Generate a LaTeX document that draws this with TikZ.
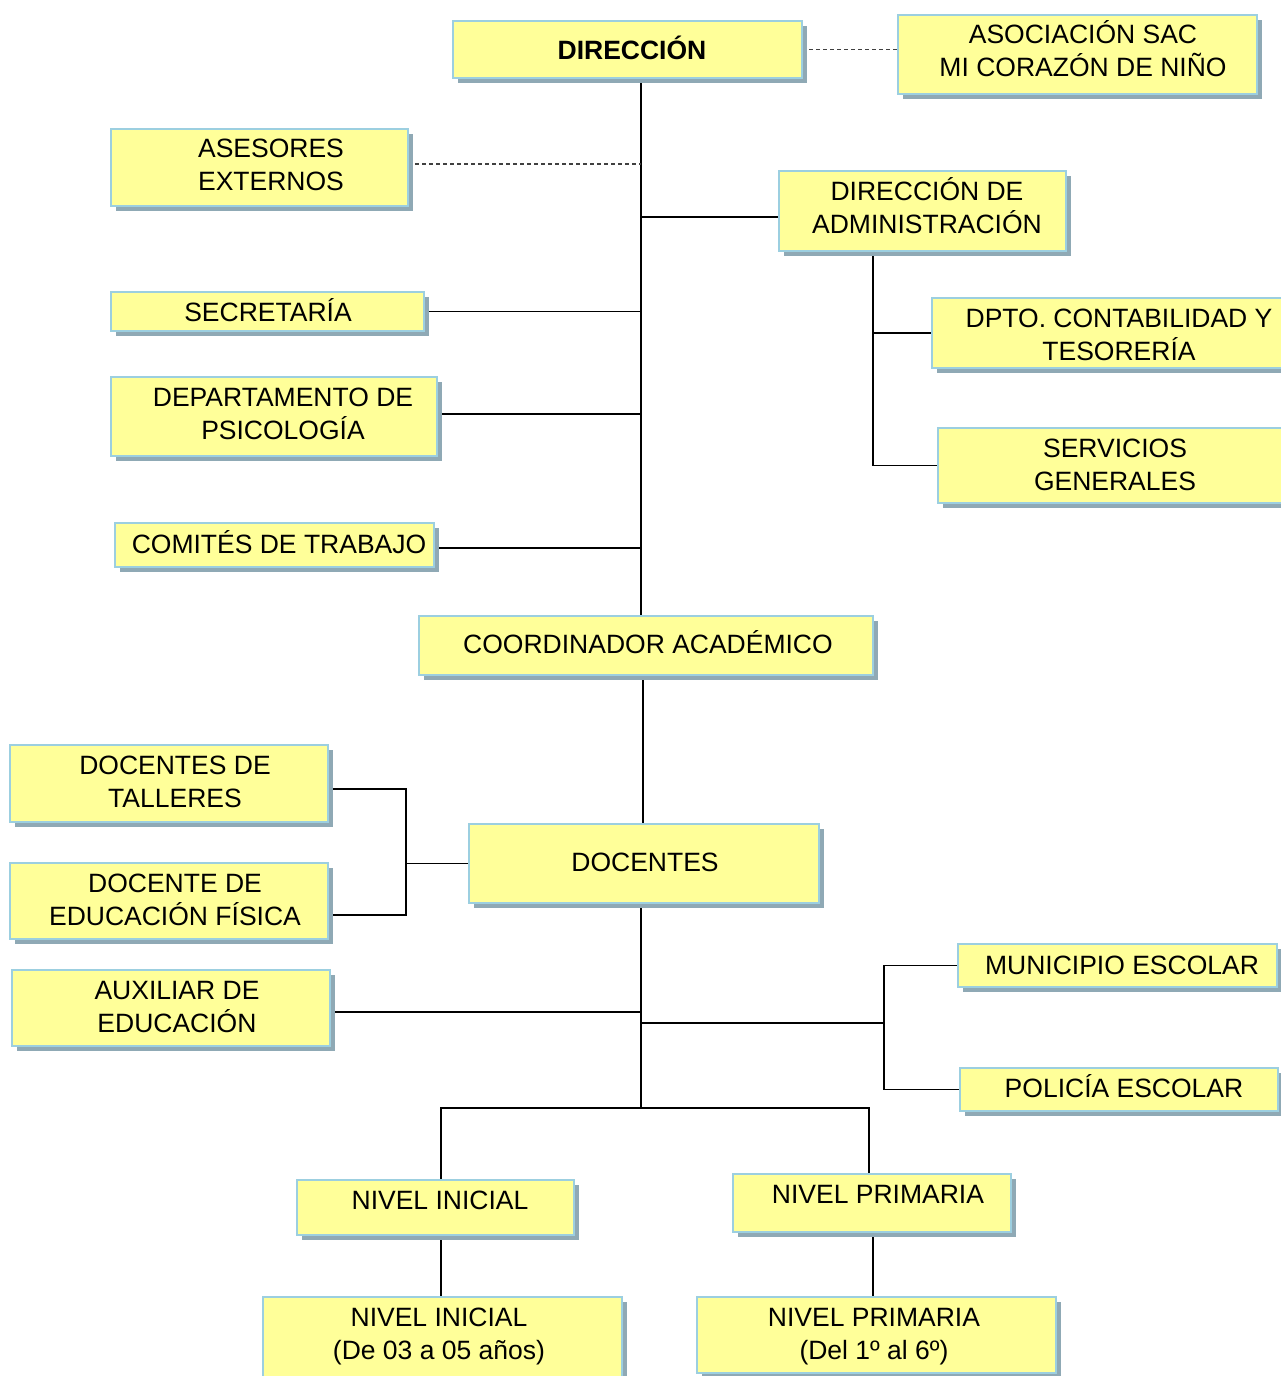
\documentclass[tikz,border=0pt]{standalone}
\usepackage{fontspec}
\setmainfont{Liberation Sans}
\usetikzlibrary{shadows,backgrounds}
\definecolor{boxfill}{HTML}{FFFF99}
\definecolor{boxline}{HTML}{9CCFE0}
\definecolor{boxshadow}{HTML}{8FA9B5}
% text placed with offset (dx, dy downward) of its cap-centre from the node centre
\newcommand\bt[3]{\makebox[0pt][c]{\raisebox{\dimexpr-9.5pt-(#2)\relax}[0pt][0pt]{\kern#1\begin{tabular}{@{}c@{}}#3\end{tabular}\kern-#1}}}
\tikzset{
  orgbox/.style={draw=boxline, line width=2.5pt, fill=boxfill, inner sep=0pt, outer sep=0pt,
    drop shadow={shadow xshift=5pt, shadow yshift=-5pt, fill=boxshadow, opacity=1},
    font=\fontsize{26.5}{33}\selectfont},
  link/.style={draw=black, line width=1.3pt},
  dashlink/.style={draw=black!75, line width=1.2pt, dash pattern=on 4pt off 3pt},
}
\begin{document}
\begin{tikzpicture}[x=1pt, y=-1pt]
\useasboundingbox (0,0) rectangle (1281,1376);

% boxes
\node[orgbox, minimum width=349pt, minimum height=57pt] (dir) at (627.5,49.5) {\bt{4.5pt}{-0.5pt}{\bfseries DIRECCIÓN}};
\node[orgbox, minimum width=359pt, minimum height=79pt] (asoc) at (1077.5,54.5) {\bt{5.5pt}{-4pt}{ASOCIACIÓN SAC\\MI CORAZÓN DE NIÑO}};
\node[orgbox, minimum width=297pt, minimum height=77pt] (ases) at (259.5,167.5) {\bt{11.5pt}{-3.5pt}{ASESORES\\EXTERNOS}};
\node[orgbox, minimum width=287pt, minimum height=80pt] (adm) at (922.5,211) {\bt{4.5pt}{-3.5pt}{DIRECCIÓN DE\\ADMINISTRACIÓN}};
\node[orgbox, minimum width=313pt, minimum height=39pt] (sec) at (267.5,311.5) {\bt{0.5pt}{0.5pt}{SECRETARÍA}};
\node[orgbox, minimum width=326pt, minimum height=79pt] (psi) at (274,416.5) {\bt{9pt}{-3pt}{DEPARTAMENTO DE\\PSICOLOGÍA}};
\node[orgbox, minimum width=319pt, minimum height=44pt] (com) at (274.5,545) {\bt{4.5pt}{-1pt}{COMITÉS DE TRABAJO}};
\node[orgbox, minimum width=374pt, minimum height=70pt] (dpto) at (1119,333) {\bt{0pt}{1.5pt}{DPTO. CONTABILIDAD Y\\TESORERÍA}};
\node[orgbox, minimum width=354pt, minimum height=75pt] (serv) at (1115,465.5) {\bt{0pt}{-1pt}{SERVICIOS\\GENERALES}};
\node[orgbox, minimum width=454pt, minimum height=59pt] (coord) at (646,645.5) {\bt{2pt}{-1.5pt}{COORDINADOR ACADÉMICO}};
\node[orgbox, minimum width=318pt, minimum height=77pt] (tal) at (169,783.5) {\bt{6pt}{-2pt}{DOCENTES DE\\TALLERES}};
\node[orgbox, minimum width=318pt, minimum height=76pt] (fis) at (169,901) {\bt{6pt}{-1.5pt}{DOCENTE DE\\EDUCACIÓN FÍSICA}};
\node[orgbox, minimum width=350pt, minimum height=79pt] (doc) at (644,863.5) {\bt{1pt}{-1.5pt}{DOCENTES}};
\node[orgbox, minimum width=318pt, minimum height=76pt] (aux) at (171,1008) {\bt{6pt}{-1.5pt}{AUXILIAR DE\\EDUCACIÓN}};
\node[orgbox, minimum width=319pt, minimum height=43pt] (mun) at (1117.5,965.5) {\bt{4.5pt}{-0.5pt}{MUNICIPIO ESCOLAR}};
\node[orgbox, minimum width=318pt, minimum height=43pt] (pol) at (1119,1089.5) {\bt{5pt}{-1.5pt}{POLICÍA ESCOLAR}};
\node[orgbox, minimum width=277pt, minimum height=55pt] (ini) at (435.5,1207.5) {\bt{4.5pt}{-7.5pt}{NIVEL INICIAL}};
\node[orgbox, minimum width=278pt, minimum height=58pt] (pri) at (872,1203) {\bt{6pt}{-9pt}{NIVEL PRIMARIA}};
\node[orgbox, minimum width=359pt, minimum height=88pt] (ini2) at (442.5,1341) {\bt{-3.5pt}{-8pt}{NIVEL INICIAL\\(De 03 a 05 años)}};
\node[orgbox, minimum width=359pt, minimum height=76pt] (pri2) at (876.5,1335) {\bt{-2.5pt}{-2pt}{NIVEL PRIMARIA\\(Del 1º al 6º)}};

% junction coordinates
\coordinate (jA) at (641,0);
\coordinate (jB) at (873,0);
\coordinate (jC) at (643,0);
\coordinate (jD) at (406,0);
\coordinate (jE) at (641,1108);
\coordinate (jF) at (884,1023);
\coordinate (jG) at (441,1108);
\coordinate (jH) at (869,1108);

\begin{scope}[on background layer]
\fill[white] (0,0) rectangle (1281,1376);
\draw[link] (dir.south -| jA) -- (coord.north -| jA);
\draw[dashlink] (dir.east) -- (dir.east -| asoc.west);
\draw[dashlink] ([yshift=3.5pt]ases.east) -- ([yshift=3.5pt]ases.east -| jA);
\draw[link] ([yshift=-6pt]adm.west) -- ([yshift=-6pt]adm.west -| jA);
\draw[link] (sec.east) -- (sec.east -| jA);
\draw[link] ([yshift=2.5pt]psi.east) -- ([yshift=2.5pt]psi.east -| jA);
\draw[link] ([yshift=-3pt]com.east) -- ([yshift=-3pt]com.east -| jA);
\draw[link] (adm.south -| jB) -- (serv.west -| jB) -- (serv.west);
\draw[link] (dpto.west -| jB) -- (dpto.west);
\draw[link] (coord.south -| jC) -- (doc.north -| jC);
\draw[link] (doc.west) -- (doc.west -| jD);
\draw[link] ([yshift=-5.5pt]tal.east) -| ([yshift=-14pt]fis.east -| jD) -- ([yshift=-14pt]fis.east);
\draw[link] (doc.south -| jE) -- (jE);
\draw[link] ([yshift=-4pt]aux.east) -- ([yshift=-4pt]aux.east -| jE);
\draw[link] (jE |- jF) -- (jF);
\draw[link] (mun.west) -| (pol.west -| jF) -- (pol.west);
\draw[link] (ini.north -| jG) -- (jG) -- (jH) -- (pri.north -| jH);
\draw[link] (ini.south -| jG) -- (ini2.north -| jG);
\draw[link] (pri.south -| jB) -- (pri2.north -| jB);
\end{scope}
\end{tikzpicture}
\end{document}
